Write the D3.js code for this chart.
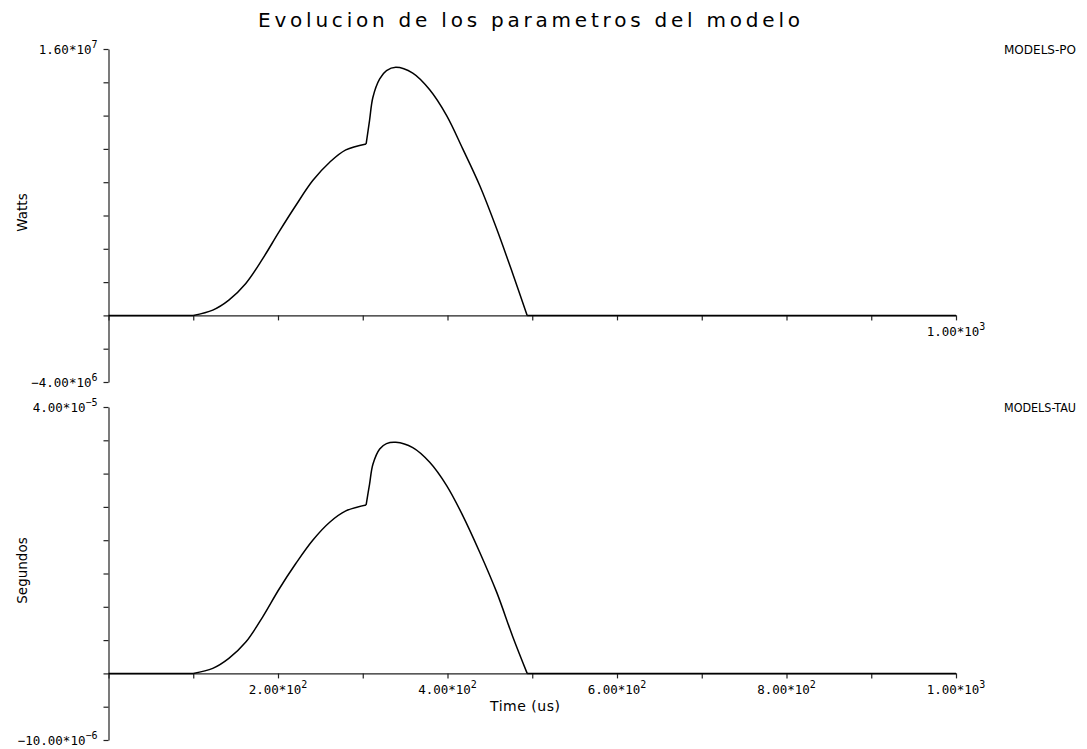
<!DOCTYPE html>
<html>
<head>
<meta charset="utf-8">
<script src="https://cdn.jsdelivr.net/npm/d3@7"></script>
<style>
  html, body { margin: 0; padding: 0; background: #fff; }
  svg { display: block; }
  text { fill: #000; }
</style>
</head>
<body>
<svg id="chart" width="1087" height="749"></svg>
<script>
// Sample times (us) shared by both model parameters
const timeUs = [0, 100, 123, 142, 162, 182, 201, 221, 241, 261, 280, 304,
                308, 312, 320, 328, 339, 359, 379, 399, 418, 438, 458, 477, 494, 1000];
// MODELS-PO (Watts)
const powerW = [0, 0, 0.32e6, 0.92e6, 1.92e6, 3.41e6, 5.0e6, 6.6e6, 8.1e6, 9.2e6, 9.94e6, 1.03e7,
                1.17e7, 1.31e7, 1.42e7, 1.47e7, 1.49e7, 1.455e7, 1.355e7, 1.2e7, 1.0e7, 7.8e6, 5.2e6, 2.5e6, 0, 0];
// MODELS-TAU (Segundos)
const tauS = [0, 0, 0.75e-6, 2.25e-6, 4.7e-6, 8.5e-6, 1.26e-5, 1.65e-5, 2.0e-5, 2.27e-5, 2.44e-5, 2.53e-5,
              2.84e-5, 3.14e-5, 3.37e-5, 3.45e-5, 3.47e-5, 3.39e-5, 3.17e-5, 2.82e-5, 2.37e-5, 1.82e-5, 1.22e-5, 5.5e-6, 0, 0];
// Times where the waveform changes regime (curve pieces are smoothed separately)
const breakTimes = [100, 304, 494];

const xTicks = [0, 100, 200, 300, 400, 500, 600, 700, 800, 900, 1000];
const xTickLabels = ["2.00*10^2", "4.00*10^2", "6.00*10^2", "8.00*10^2", "1.00*10^3"];
const xLabelValues = [200, 400, 600, 800, 1000];

const poDomain = [-4e6, 1.6e7];
const poTicks = [-4e6, -2e6, 0, 2e6, 4e6, 6e6, 8e6, 10e6, 12e6, 14e6, 16e6];
const poEndLabels = ["1.60*10^7", "\u22124.00*10^6"];

const tauDomain = [-1e-5, 4e-5];
const tauTicks = [-1e-5, -5e-6, 0, 5e-6, 1e-5, 1.5e-5, 2e-5, 2.5e-5, 3e-5, 3.5e-5, 4e-5];
const tauEndLabels = ["4.00*10^\u22125", "\u221210.00*10^\u22126"];

const svg = d3.select("#chart");
const x = d3.scaleLinear().domain([0, 1000]).range([108.5, 956]);

const panels = [
  { name: "MODELS-PO", unit: "Watts", values: powerW, domain: poDomain, ticks: poTicks,
    ends: poEndLabels, range: [382, 49], xLabels: [1000] },
  { name: "MODELS-TAU", unit: "Segundos", values: tauS, domain: tauDomain, ticks: tauTicks,
    ends: tauEndLabels, range: [740, 407], xLabels: xLabelValues }
];

const tickFont = "'DejaVu Sans Mono', monospace";

// Draws "m*10^e" as a mantissa with a raised exponent
function powerLabel(sel, label) {
  const [mant, exp] = label.split("^");
  sel.append("tspan").text(mant);
  sel.append("tspan").attr("dy", -6).attr("font-size", 10).text(exp);
}

function splitSeries(values) {
  const pts = timeUs.map((t, i) => [t, values[i]]);
  const bounds = [timeUs[0], ...breakTimes, timeUs[timeUs.length - 1]];
  const pieces = [];
  for (let k = 0; k < bounds.length - 1; k++) {
    pieces.push(pts.filter(p => p[0] >= bounds[k] && p[0] <= bounds[k + 1]));
  }
  return pieces;
}

panels.forEach(p => {
  const y = d3.scaleLinear().domain(p.domain).range(p.range);
  const g = svg.append("g");

  // vertical axis
  const yAxis = d3.axisLeft(y).tickValues(p.ticks).tickSize(5).tickSizeOuter(0).tickFormat("");
  g.append("g").attr("transform", `translate(${x(0)},0)`).call(yAxis)
    .call(a => a.selectAll("path, line").attr("stroke", "#222").attr("stroke-width", 1.2));

  // time axis along the zero line
  const xAxis = d3.axisBottom(x).tickValues(xTicks).tickSize(5).tickSizeOuter(0).tickFormat("");
  g.append("g").attr("transform", `translate(0,${y(0)})`).call(xAxis)
    .call(a => a.selectAll("path, line").attr("stroke", "#222").attr("stroke-width", 1.2));

  // end labels of the vertical axis
  [p.domain[1], p.domain[0]].forEach((v, i) => {
    g.append("text").attr("x", x(0) - 11).attr("y", y(v) + 4.5)
      .attr("text-anchor", "end").attr("font-family", tickFont).attr("font-size", 12.5)
      .call(s => powerLabel(s, p.ends[i]));
  });

  // time tick labels
  p.xLabels.forEach(v => {
    const lbl = xTickLabels[xLabelValues.indexOf(v)];
    g.append("text").attr("x", x(v)).attr("y", y(0) + 21)
      .attr("text-anchor", "middle").attr("font-family", tickFont).attr("font-size", 12.5)
      .call(s => powerLabel(s, lbl));
  });

  // series name
  g.append("text").attr("x", 1076).attr("y", y(p.domain[1]) + 5)
    .attr("text-anchor", "end").attr("font-family", "'DejaVu Sans Condensed', 'DejaVu Sans', sans-serif")
    .attr("font-size", 12).attr("textLength", 72).attr("lengthAdjust", "spacingAndGlyphs")
    .text(p.name);

  // unit label
  const midY = (p.range[0] + p.range[1]) / 2 - 3;
  g.append("text").attr("transform", `translate(27,${midY}) rotate(-90)`)
    .attr("text-anchor", "middle").attr("font-family", "'DejaVu Sans', sans-serif")
    .attr("font-size", 13.5).text(p.unit);

  // curve
  const line = d3.line().x(d => x(d[0])).y(d => y(d[1])).curve(d3.curveCatmullRom.alpha(0.5));
  splitSeries(p.values).forEach(piece => {
    g.append("path").attr("d", line(piece)).attr("fill", "none")
      .attr("stroke", "#000").attr("stroke-width", 1.5).attr("stroke-linejoin", "round");
  });
});

// title and time axis label
svg.append("text").attr("x", 529).attr("y", 27).attr("text-anchor", "middle")
  .attr("font-family", "'DejaVu Sans', sans-serif").attr("font-size", 20)
  .attr("textLength", 542).attr("lengthAdjust", "spacing")
  .text("Evolucion de los parametros del modelo");

svg.append("text").attr("x", 525).attr("y", 711).attr("text-anchor", "middle")
  .attr("font-family", "'DejaVu Sans', sans-serif").attr("font-size", 14)
  .attr("textLength", 70).attr("lengthAdjust", "spacing")
  .text("Time (us)");
</script>
</body>
</html>
